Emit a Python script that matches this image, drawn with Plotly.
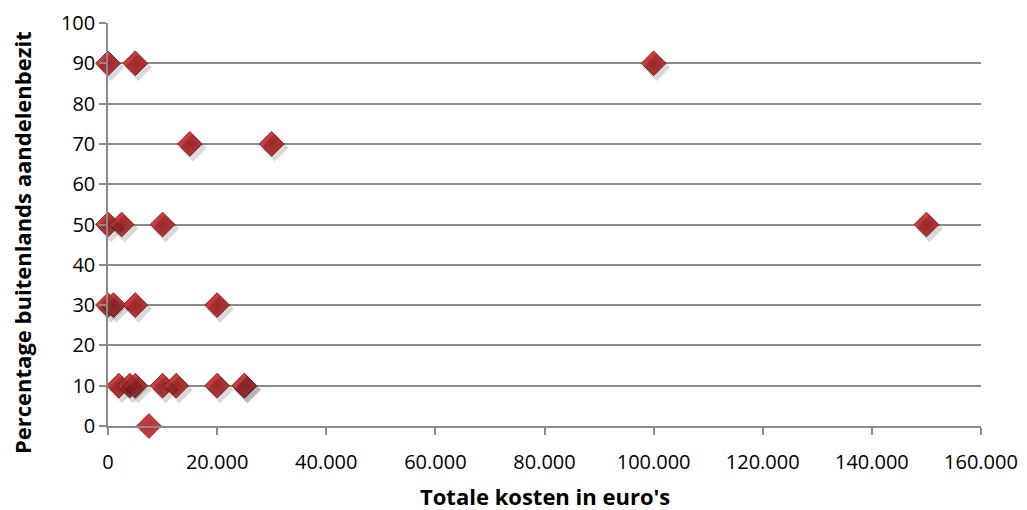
import plotly.graph_objects as go

# Totale kosten (euro) per respondent and share of foreign equity (%)
kosten = [0, 5000, 100000,
          15000, 30000,
          0, 2500, 10000, 150000,
          0, 1000, 5000, 20000,
          2000, 4000, 5000, 10000, 12500, 20000, 25000, 25000,
          7500]
percentage = [90, 90, 90,
              70, 70,
              50, 50, 50, 50,
              30, 30, 30, 30,
              10, 10, 10, 10, 10, 10, 10, 10,
              0]

x_ticks = [0, 20000, 40000, 60000, 80000, 100000, 120000, 140000, 160000]
y_ticks = [0, 10, 20, 30, 40, 50, 60, 70, 80, 90, 100]

X_RANGE = [0, 160000]
Y_RANGE = [0, 100]

W, H = 1027, 510
M = dict(l=108, r=46, t=23, b=84)
plot_w = W - M["l"] - M["r"]
plot_h = H - M["t"] - M["b"]

# drop shadow: same points on an overlaid axis pair shifted a few pixels
dx_px, dy_px = 3, 4
sx = (X_RANGE[1] - X_RANGE[0]) / plot_w * dx_px
sy = (Y_RANGE[1] - Y_RANGE[0]) / plot_h * dy_px

grid = "#8a8a8a"
font = "'Open Sans', 'Noto Sans', sans-serif"

fig = go.Figure()
fig.add_trace(go.Scatter(
    x=kosten, y=percentage, mode="markers", xaxis="x2", yaxis="y2",
    marker=dict(symbol="diamond", size=21, color="rgba(0,0,0,0.15)",
                line=dict(width=0)),
    hoverinfo="skip", showlegend=False, cliponaxis=False,
))
fig.add_trace(go.Scatter(
    x=kosten, y=percentage, mode="markers",
    marker=dict(symbol="diamond", size=19, color="#d34042",
                gradient=dict(type="radial", color="#b53032"),
                line=dict(width=1, color="#8e2224")),
    showlegend=False, cliponaxis=False,
))

fig.update_layout(
    width=W, height=H, margin=M,
    paper_bgcolor="white", plot_bgcolor="white",
    separators=",.",
    font=dict(family=font, size=20, color="black"),
    xaxis=dict(
        range=X_RANGE, tickvals=x_ticks, tickformat=",.0f",
        showgrid=False, zeroline=False, automargin=False,
        showline=True, linecolor=grid, linewidth=1.5,
        ticks="outside", ticklen=7, tickcolor=grid, tickwidth=1.5,
        ticklabelstandoff=10,
    ),
    yaxis=dict(
        range=Y_RANGE, tickvals=y_ticks, automargin=False,
        showgrid=True, gridcolor=grid, gridwidth=1.5, zeroline=False,
        showline=True, linecolor=grid, linewidth=1.5,
        ticks="outside", ticklen=7, tickcolor=grid, tickwidth=1.5,
    ),
    xaxis2=dict(range=[X_RANGE[0] - sx, X_RANGE[1] - sx], overlaying="x",
                visible=False, fixedrange=True),
    yaxis2=dict(range=[Y_RANGE[0] + sy, Y_RANGE[1] + sy], overlaying="y",
                visible=False, fixedrange=True),
    annotations=[
        dict(text="<b>Totale kosten in euro's</b>", xref="paper", yref="paper",
             x=0.5, y=(M["b"] - 14) / -plot_h, xanchor="center", yanchor="middle",
             showarrow=False, font=dict(size=22)),
        dict(text="<b>Percentage buitenlands aandelenbezit</b>", xref="paper", yref="paper",
             x=(22 - M["l"]) / plot_w, y=(H - M["b"] - 243) / plot_h,
             xanchor="center", yanchor="middle", textangle=-90,
             showarrow=False, font=dict(size=22)),
    ],
)

fig.write_html("out.html")
